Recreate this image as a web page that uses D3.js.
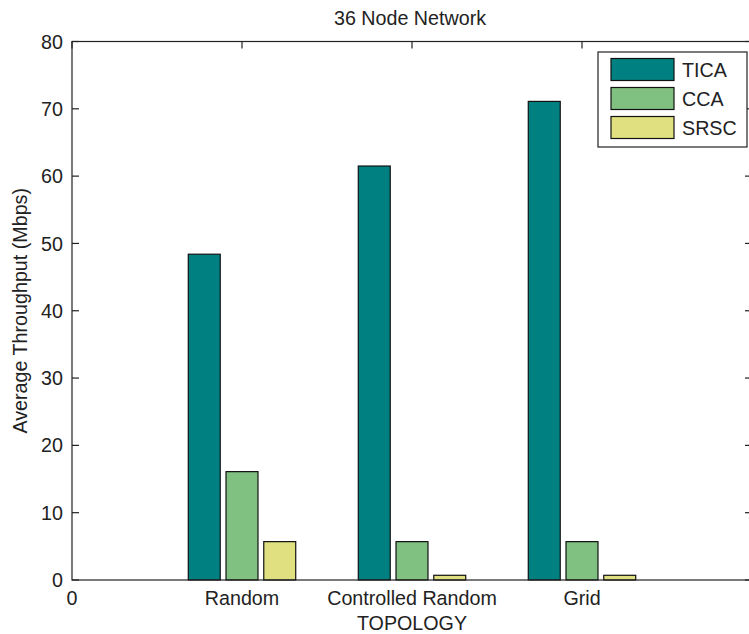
<!DOCTYPE html>
<html>
<head>
<meta charset="utf-8">
<script src="https://cdn.jsdelivr.net/npm/d3@7"></script>
<style>
  body { margin: 0; background: #fff; }
  text { font-family: "Liberation Sans", Arial, sans-serif; fill: #222; }
</style>
</head>
<body>
<svg id="chart"></svg>
<script>
const width = 749, height = 634;

const topologies = ["Random", "Controlled Random", "Grid"];
const series = ["TICA", "CCA", "SRSC"];
const tica = [48.4, 61.5, 71.1];
const cca = [16.1, 5.7, 5.7];
const srsc = [5.7, 0.7, 0.7];
const yTicks = [0, 10, 20, 30, 40, 50, 60, 70, 80];
const colors = ["#008080", "#80c080", "#e0e080"];

const values = [tica, cca, srsc];

const margin = {left: 72, top: 41.5, right: 752, bottom: 580};
const fontSize = 19.7;

const svg = d3.select("#chart")
  .attr("width", width)
  .attr("height", height);

// x is numeric like matlab: groups sit at 1,2,3
const x = d3.scaleLinear().domain([0, 4]).range([margin.left, margin.right]);
const y = d3.scaleLinear().domain([0, 80]).range([margin.bottom, margin.top]);

const barW = 0.188, step = 0.222;

// bars
series.forEach((s, si) => {
  svg.append("g").selectAll("rect")
    .data(values[si])
    .enter().append("rect")
    .attr("x", (d, i) => x(i + 1 + (si - 1) * step - barW / 2))
    .attr("y", d => y(d))
    .attr("width", x(barW) - x(0))
    .attr("height", d => y(0) - y(d))
    .attr("fill", colors[si])
    .attr("stroke", "#111")
    .attr("stroke-width", 1.2);
});

// axes box with inward ticks
const tickLen = 7;
const axes = svg.append("g").attr("stroke", "#222").attr("stroke-width", 1.2).attr("fill", "none");
axes.append("rect")
  .attr("x", margin.left).attr("y", margin.top)
  .attr("width", margin.right - margin.left).attr("height", margin.bottom - margin.top);

yTicks.forEach(t => {
  axes.append("line").attr("x1", margin.left).attr("x2", margin.left + tickLen).attr("y1", y(t)).attr("y2", y(t));
  axes.append("line").attr("x1", margin.right).attr("x2", margin.right - tickLen).attr("y1", y(t)).attr("y2", y(t));
});
[0, 1, 2, 3].forEach(t => {
  axes.append("line").attr("x1", x(t)).attr("x2", x(t)).attr("y1", margin.top).attr("y2", margin.top + tickLen);
});

// tick labels
svg.append("g").selectAll("text")
  .data(yTicks)
  .enter().append("text")
  .attr("x", 63)
  .attr("y", d => y(d))
  .attr("dy", "0.36em")
  .attr("text-anchor", "end")
  .attr("font-size", fontSize)
  .text(d => d);

const xLabels = ["0"].concat(topologies);
svg.append("g").selectAll("text")
  .data(xLabels)
  .enter().append("text")
  .attr("x", (d, i) => x(i))
  .attr("y", 605)
  .attr("text-anchor", "middle")
  .attr("font-size", fontSize)
  .text(d => d);

// titles
svg.append("text")
  .attr("x", (margin.left + margin.right) / 2 - 2)
  .attr("y", 25)
  .attr("text-anchor", "middle")
  .attr("font-size", fontSize)
  .text("36 Node Network");

svg.append("text")
  .attr("x", (margin.left + margin.right) / 2)
  .attr("y", 630)
  .attr("text-anchor", "middle")
  .attr("font-size", fontSize)
  .text("TOPOLOGY");

svg.append("text")
  .attr("transform", `translate(27, ${(margin.top + margin.bottom) / 2}) rotate(-90)`)
  .attr("text-anchor", "middle")
  .attr("font-size", fontSize)
  .text("Average Throughput (Mbps)");

// legend
const legend = svg.append("g");
legend.append("rect")
  .attr("x", 598).attr("y", 52).attr("width", 149).attr("height", 95)
  .attr("fill", "#fff").attr("stroke", "#222").attr("stroke-width", 1.2);
series.forEach((s, si) => {
  const ly = 58.5 + si * 29;
  legend.append("rect")
    .attr("x", 611).attr("y", ly).attr("width", 63).attr("height", 22)
    .attr("fill", colors[si]).attr("stroke", "#111").attr("stroke-width", 1.2);
  legend.append("text")
    .attr("x", 682).attr("y", ly + 11).attr("dy", "0.36em")
    .attr("font-size", fontSize)
    .text(s);
});
</script>
</body>
</html>
